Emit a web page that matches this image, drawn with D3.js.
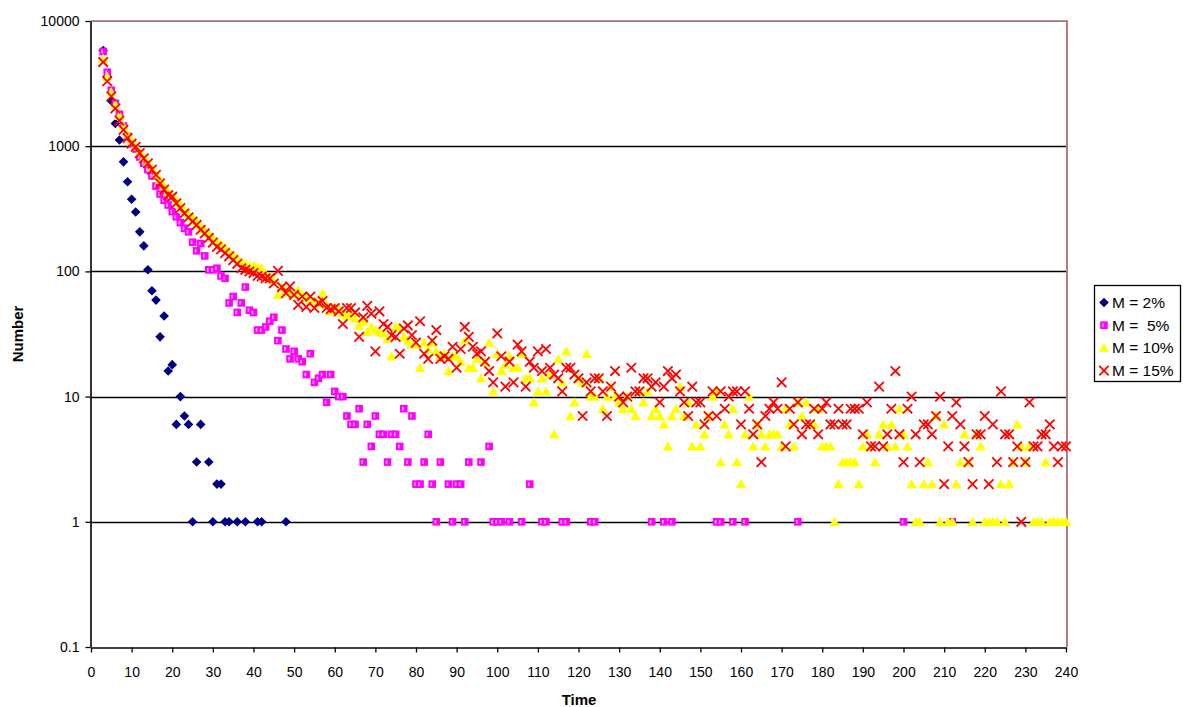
<!DOCTYPE html>
<html>
<head>
<meta charset="utf-8">
<script src="https://cdn.jsdelivr.net/npm/d3@7/dist/d3.min.js"></script>
<style>
  html, body { margin: 0; padding: 0; background: #fff; }
  svg { display: block; font-family: "Liberation Sans", Arial, sans-serif; }
</style>
</head>
<body>
<svg id="chart" width="1184" height="707"></svg>
<script>
// Counts per time step. Each series starts at time 3; a 0 means nothing was counted.
const firstTime = 3;

const seriesNames = ["M = 2%", "M =  5%", "M = 10%", "M = 15%"];

// M = 2%  (times 3..48)
const countM2 = [
  5800, 3600, 2300, 1520, 1120, 750, 520, 377, 298, 207,      // 3-12
  160, 103, 70, 59, 30, 44, 16, 18, 6, 10,                     // 13-22
  7, 6, 1, 3, 6, 0, 3, 1, 2, 2,                                // 23-32
  1, 1, 0, 1, 0, 1, 0, 0, 1, 1,                                // 33-42
  0, 0, 0, 0, 0, 1                                             // 43-48
];

// M = 5%  (times 3..212)
const countM5 = [
  5700, 3900, 2800, 2200, 1800, 1450, 1200, 1050, 950, 820,    // 3-12
  730, 650, 580, 480, 415, 370, 339, 300, 273, 245,            // 13-22
  221, 207, 171, 146, 167, 133, 103, 103, 106, 92,             // 23-32
  88, 56, 63, 47, 56, 75, 49, 47, 34, 34,                      // 33-42
  36, 40, 43, 28, 34, 24, 20, 23, 20, 19,                      // 43-52
  15, 22, 13, 14, 15, 9, 15, 11, 10, 10,                       // 53-62
  7, 6, 6, 8, 3, 6, 4, 7, 5, 5,                                // 63-72
  3, 5, 5, 4, 8, 3, 7, 2, 2, 3,                                // 73-82
  5, 2, 1, 3, 0, 2, 1, 2, 2, 1,                                // 83-92
  3, 0, 0, 3, 0, 4, 1, 1, 1, 0,                                // 93-102
  1, 0, 0, 1, 0, 2, 0, 0, 1, 1,                                // 103-112
  0, 0, 0, 1, 1, 0, 0, 0, 0, 0,                                // 113-122
  1, 1, 0, 0, 0, 0, 0, 0, 0, 0,                                // 123-132
  0, 0, 0, 0, 0, 1, 0, 0, 1, 0,                                // 133-142
  1, 0, 0, 0, 0, 0, 0, 0, 0, 0,                                // 143-152
  0, 1, 1, 0, 0, 1, 0, 0, 1, 0,                                // 153-162
  0, 0, 0, 0, 0, 0, 0, 0, 0, 0,                                // 163-172
  0, 1, 0, 0, 0, 0, 0, 0, 0, 0,                                // 173-182
  0, 0, 0, 0, 0, 0, 0, 0, 0, 0,                                // 183-192
  0, 0, 0, 0, 0, 0, 0, 1, 0, 0,                                // 193-202
  0, 0, 0, 0, 0, 0, 0, 0, 0, 1                                 // 203-212
];

// M = 10%  (times 3..240)
const countM10 = [
  5000, 3600, 2700, 2150, 1750, 1450, 1250, 1100, 1000, 900,   // 3-12
  820, 740, 670, 600, 540, 480, 430, 400, 370, 340,            // 13-22
  310, 290, 270, 250, 230, 215, 200, 185, 175, 165,            // 23-32
  155, 145, 135, 128, 120, 115, 110, 112, 108, 106,            // 33-42
  95, 90, 85, 65, 75, 70, 68, 66, 71, 65,                      // 43-52
  62, 60, 58, 56, 67, 54, 48, 52, 50, 46,                      // 53-62
  44, 47, 42, 37, 40, 33, 36, 34, 33, 32,                      // 63-72
  29, 21, 36, 36, 30, 28, 26, 26, 17, 27,                      // 73-82
  24, 27, 23, 21, 22, 16, 21, 21, 19, 28,                      // 83-92
  17, 17, 20, 14, 19, 27, 11, 22, 16, 18,                      // 93-102
  21, 17, 17, 22, 14, 14, 9, 11, 14, 11,                       // 103-112
  15, 5, 20, 13, 23, 7, 9, 14, 13, 22,                         // 113-122
  10, 10, 14, 8, 10, 12, 10, 9, 8, 10,                         // 123-132
  8, 7, 11, 9, 11, 7, 8, 7, 6, 4,                              // 133-142
  7, 8, 12, 7, 9, 4, 6, 4, 5, 7,                               // 143-152
  10, 11, 3, 6, 5, 8, 3, 2, 5, 10,                             // 153-162
  4, 6, 5, 4, 5, 5, 5, 4, 8, 6,                                // 163-172
  4, 9, 7, 9, 6, 6, 8, 4, 4, 4,                                // 173-182
  1, 2, 3, 3, 3, 3, 2, 4, 5, 4,                                // 183-192
  3, 5, 6, 4, 6, 4, 8, 5, 4, 2,                                // 193-202
  1, 1, 2, 3, 2, 7, 1, 6, 1, 1,                                // 203-212
  2, 3, 5, 3, 1, 5, 4, 1, 1, 1,                                // 213-222
  1, 2, 1, 2, 3, 6, 4, 3, 4, 1,                                // 223-232
  1, 1, 3, 1, 1, 1, 1, 1                                       // 233-240
];

// M = 15%  (times 3..240)
const countM15 = [
  4700, 3300, 2500, 2000, 1600, 1350, 1160, 1050, 990, 880,    // 3-12
  800, 730, 650, 590, 505, 450, 407, 395, 350, 320,            // 13-22
  290, 270, 250, 235, 215, 201, 185, 170, 157, 150,            // 23-32
  140, 132, 123, 115, 106, 103, 100, 97, 92, 91,               // 33-42
  88, 88, 80, 101, 75, 67, 76, 65, 54, 63,                     // 43-52
  52, 63, 51, 56, 58, 51, 50, 51, 48, 38,                      // 53-62
  51, 51, 47, 30, 43, 53, 46, 23, 48, 38,                      // 63-72
  36, 31, 30, 22, 35, 37, 31, 27, 40, 22,                      // 73-82
  20, 28, 34, 20, 21, 20, 25, 17, 24, 36,                      // 83-92
  30, 25, 22, 23, 19, 16, 13, 32, 21, 12,                      // 93-102
  19, 13, 26, 23, 12, 19, 17, 23, 16, 24,                      // 103-112
  17, 15, 14, 11, 17, 17, 15, 14, 7, 13,                       // 113-122
  11, 14, 14, 11, 7, 12, 16, 10, 9, 10,                        // 123-132
  17, 11, 11, 14, 14, 12, 13, 9, 12, 16,                       // 133-142
  14, 15, 11, 9, 7, 12, 9, 9, 6, 7,                            // 143-152
  11, 7, 11, 8, 10, 11, 11, 6, 11, 8,                          // 153-162
  5, 6, 3, 7, 8, 9, 8, 13, 4, 8,                               // 163-172
  6, 9, 5, 6, 6, 8, 5, 8, 9, 6,                                // 173-182
  6, 8, 6, 6, 8, 8, 8, 5, 9, 4,                                // 183-192
  4, 12, 4, 5, 8, 16, 5, 3, 8, 10,                             // 193-202
  5, 3, 6, 6, 5, 7, 10, 2, 4, 7,                               // 203-212
  9, 6, 4, 3, 2, 5, 5, 7, 2, 6,                                // 213-222
  3, 11, 5, 5, 3, 4, 1, 3, 9, 4,                               // 223-232
  4, 5, 5, 6, 4, 3, 4, 4                                       // 233-240
];

// Axis ticks
const xTicks = d3.range(0, 241, 10);
const yTicks = [0.1, 1, 10, 100, 1000, 10000];
const yTickLabels = ["0.1", "1", "10", "100", "1000", "10000"];

const svg = d3.select("#chart");
const plot = { left: 91, right: 1066, top: 21, bottom: 647 };

const x = d3.scaleLinear().domain([0, 240]).range([plot.left, plot.right]);
const y = d3.scaleLog().domain([0.1, 10000]).range([plot.bottom, plot.top]);

function toPoints(counts) {
  return counts
    .map((v, i) => ({ t: firstTime + i, v }))
    .filter(d => d.v > 0);
}

// Plot area background
svg.append("rect")
  .attr("x", plot.left).attr("y", plot.top)
  .attr("width", plot.right - plot.left).attr("height", plot.bottom - plot.top)
  .attr("fill", "#ffffff");

// Horizontal gridlines at each decade
svg.append("g")
  .selectAll("line")
  .data(yTicks.filter(v => v > 0.1 && v < 10000))
  .join("line")
  .attr("x1", plot.left).attr("x2", plot.right)
  .attr("y1", d => Math.round(y(d)) + 0.5).attr("y2", d => Math.round(y(d)) + 0.5)
  .attr("stroke", "#000").attr("stroke-width", 1.3);

// Frame: grey inner line with a rosy outer edge on top and right
svg.append("line")
  .attr("x1", plot.left).attr("x2", plot.right + 1)
  .attr("y1", plot.top - 0.5).attr("y2", plot.top - 0.5)
  .attr("stroke", "#d09090").attr("stroke-width", 1);
svg.append("line")
  .attr("x1", plot.left).attr("x2", plot.right)
  .attr("y1", plot.top + 0.5).attr("y2", plot.top + 0.5)
  .attr("stroke", "#808080").attr("stroke-width", 1);
svg.append("line")
  .attr("x1", plot.right + 1.5).attr("x2", plot.right + 1.5)
  .attr("y1", plot.top - 1).attr("y2", plot.bottom)
  .attr("stroke", "#c87878").attr("stroke-width", 1);
svg.append("line")
  .attr("x1", plot.right + 0.5).attr("x2", plot.right + 0.5)
  .attr("y1", plot.top).attr("y2", plot.bottom)
  .attr("stroke", "#a08080").attr("stroke-width", 1);

// Axes
const xAxis = d3.axisBottom(x).tickValues(xTicks).tickSize(5).tickSizeOuter(0).tickPadding(15);
const yAxis = d3.axisLeft(y).tickValues(yTicks).tickSize(5).tickSizeOuter(0).tickPadding(6)
  .tickFormat((d, i) => yTickLabels[i]);

const gx = svg.append("g").attr("transform", `translate(0,${plot.bottom + 0.5})`).call(xAxis);
const gy = svg.append("g").attr("transform", `translate(${plot.left - 0.5},0)`).call(yAxis);

[gx, gy].forEach(g => {
  g.selectAll(".domain").attr("stroke", "#000").attr("stroke-width", 1.6);
  g.selectAll(".tick line").attr("stroke", "#000").attr("stroke-width", 1.3);
  g.selectAll(".tick text").attr("fill", "#000").attr("font-size", 14)
    .attr("font-family", "'Liberation Sans', Arial, sans-serif");
});

// Axis titles
svg.append("text")
  .attr("x", 579).attr("y", 705)
  .attr("text-anchor", "middle").attr("font-size", 15).attr("font-weight", "bold")
  .text("Time");
svg.append("text")
  .attr("transform", `translate(23,${(plot.top + plot.bottom) / 2}) rotate(-90)`)
  .attr("text-anchor", "middle").attr("font-size", 15).attr("font-weight", "bold")
  .text("Number");

// Marker shapes
const markers = [
  { // diamond
    draw: (g) => g.append("path").attr("d", "M0,-4.8L4.8,0L0,4.8L-4.8,0Z").attr("fill", "#000080")
  },
  { // square
    draw: (g) => {
      g.append("rect").attr("x", -3.8).attr("y", -3.8).attr("width", 7.6).attr("height", 7.6)
        .attr("fill", "#ff00ff");
      g.append("rect").attr("x", -1.8).attr("y", -1.8).attr("width", 1.6).attr("height", 3.6)
        .attr("fill", "#ffb0ff");
    }
  },
  { // triangle
    draw: (g) => g.append("path").attr("d", "M0,-5L5.2,4.2L-5.2,4.2Z").attr("fill", "#ffff00")
  },
  { // cross
    draw: (g) => g.append("path").attr("d", "M-4.7,-4.7L4.7,4.7M-4.7,4.7L4.7,-4.7")
      .attr("stroke", "#ff0000").attr("stroke-width", 1.8).attr("fill", "none")
  }
];

const allCounts = [countM2, countM5, countM10, countM15];

allCounts.forEach((counts, si) => {
  const g = svg.append("g").attr("class", "series-" + si);
  g.selectAll("g")
    .data(toPoints(counts))
    .join("g")
    .attr("transform", d => `translate(${x(d.t)},${y(d.v)})`)
    .each(function () { markers[si].draw(d3.select(this)); });
});

// Legend
const legend = svg.append("g");
legend.append("rect")
  .attr("x", 1094.5).attr("y", 285.5).attr("width", 86).attr("height", 96)
  .attr("fill", "#fff").attr("stroke", "#000").attr("stroke-width", 1.3);
seriesNames.forEach((name, i) => {
  const yy = 302.5 + i * 22.7;
  const mg = legend.append("g").attr("transform", `translate(1104,${yy})`);
  markers[i].draw(mg);
  legend.append("text")
    .attr("x", 1112).attr("y", yy + 5.5)
    .attr("font-size", 15.5).attr("fill", "#000")
    .attr("xml:space", "preserve").style("white-space", "pre")
    .text(name);
});
</script>
</body>
</html>
